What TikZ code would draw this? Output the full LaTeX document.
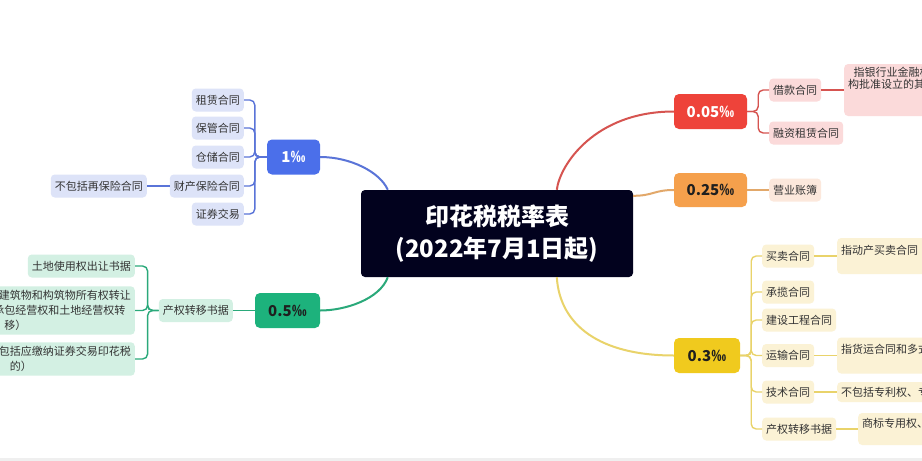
\documentclass[tikz,border=0pt]{standalone}
\usepackage{fontspec}
\setmainfont{Noto Sans CJK SC}

\definecolor{titlebg}{HTML}{02021E}
\definecolor{blueM}{HTML}{4B6FEA}
\definecolor{blueL}{HTML}{5A74D8}
\definecolor{blueP}{HTML}{DDE3F8}
\definecolor{greenM}{HTML}{1DB27C}
\definecolor{greenL}{HTML}{2AA97A}
\definecolor{greenP}{HTML}{D3F0E3}
\definecolor{redM}{HTML}{EE433A}
\definecolor{redL}{HTML}{D65450}
\definecolor{redP}{HTML}{FBDADA}
\definecolor{orangeM}{HTML}{F5A04C}
\definecolor{orangeL}{HTML}{E2A86A}
\definecolor{orangeP}{HTML}{FCE8DC}
\definecolor{yellowM}{HTML}{F0CA1E}
\definecolor{yellowL}{HTML}{E9D36A}
\definecolor{yellowP}{HTML}{FBF2D5}
\definecolor{leaftext}{HTML}{333333}
\definecolor{ratetext}{HTML}{1F1F1F}
\definecolor{stripgray}{HTML}{EFEFEF}

\begin{document}
\begin{tikzpicture}[x=1pt,y=-1pt,
        leaf/.style={rounded corners=4pt, inner xsep=4pt, inner ysep=4pt, minimum height=23pt, align=center, text=leaftext, font=\fontsize{11}{15}\selectfont},
        note/.style={leaf, anchor=west, font=\fontsize{11}{12}\selectfont},
        rate/.style={rounded corners=5pt, minimum height=35pt, text=ratetext, font=\fontsize{15}{18}\selectfont\bfseries},
        branch/.style={line width=2pt},
        twig/.style={line width=1.4pt, rounded corners=5pt}]

        % 画布
        \useasboundingbox (0,0) rectangle (922,461);
        \clip (0,0) rectangle (922,461);
        \fill[white] (0,0) rectangle (922,461);
        \fill[stripgray] (0,458) rectangle (922,461);

        % 中心
        \node[fill=titlebg, text=white, rounded corners=4pt, minimum width=272pt, minimum height=87pt, align=center, font=\fontsize{24}{32}\selectfont\bfseries] (title) at (497,233.5) {印花税税率表\\(2022年7月1日起)};
        \coordinate (tNW) at ([xshift=27pt]title.north west);
        \coordinate (tSW) at ([xshift=27pt]title.south west);
        \coordinate (tN) at ([xshift=196pt]title.north west);
        \coordinate (tS) at ([xshift=196pt]title.south west);
        \coordinate (tNE) at ([yshift=-6pt]title.north east);

        % 税率
        \node[rate, fill=blueM, text=white, minimum width=53pt] (r1) at (293.5,157) {1‰};
        \node[rate, fill=greenM, minimum width=65pt] (r05) at (287.5,310.5) {0.5‰};
        \node[rate, fill=redM, text=white, minimum width=73pt] (r005) at (710.5,111.5) {0.05‰};
        \node[rate, fill=orangeM, minimum width=73pt, minimum height=34pt] (r025) at (710.5,190) {0.25‰};
        \node[rate, fill=yellowM, minimum width=66pt] (r03) at (707,355.5) {0.3‰};

        \draw[branch, blueL] (r1.east) .. controls +(30,0) and +(-8,-18) .. (tNW);
        \draw[branch, greenL] (tSW) .. controls +(-8,22) and +(25,0) .. (r05.east);
        \draw[branch, redL] (tN) .. controls +(3,-25) and +(-79,0) .. (r005.west);
        \draw[branch, orangeL] (tNE) .. controls +(20,0) and +(-20,0) .. (r025.west);
        \draw[branch, yellowL] (tS) .. controls +(3,48) and +(-74,0) .. (r03.west);

        % 1‰
        \foreach \nm/\y/\txt in {zl/100/租赁合同, bg/128/保管合同, cc/157/仓储合同, cb/186/财产保险合同, zq/214/证券交易}
        {
            \node[leaf, fill=blueP, anchor=east] (\nm) at (244,\y) {\txt};
            \draw[twig, blueL] (r1.west) -- ++(-12,0) |- (\nm.east);
        }
        \node[leaf, fill=blueP, anchor=east] (bbk) at (147,186) {不包括再保险合同};
        \draw[twig, blueL] (cb.west) -- (bbk.east);

        % 0.5‰
        \node[leaf, fill=greenP, anchor=east] (cqzy) at (233,310.5) {产权转移书据};
        \draw[twig, greenL] (r05.west) -- (cqzy.east);
        \node[leaf, fill=greenP, anchor=east] (tdcr) at (135,266) {土地使用权出让书据};
        \node[leaf, fill=greenP, anchor=east] (fwzr) at (135,310.5) {土地使用权、房屋等建筑物和构筑物所有权转让\\书据（不包括土地承包经营权和土地经营权转\\移）};
        \node[leaf, fill=greenP, anchor=east] (gqzr) at (135,359) {股权转让书据（不包括应缴纳证券交易印花税\\的）};
        \foreach \nm in {tdcr, fwzr, gqzr}
            \draw[twig, greenL] (cqzy.west) -- ++(-11,0) |- (\nm.east);

        % 0.05‰
        \node[leaf, fill=redP, anchor=west] (jk) at (769,90) {借款合同};
        \node[leaf, fill=redP, anchor=west] (rz) at (769,133) {融资租赁合同};
        \foreach \nm in {jk, rz}
            \draw[twig, redL] (r005.east) -- ++(11,0) |- (\nm.west);
        \node[note, fill=redP, inner ysep=2pt, minimum height=52pt] (jkdesc) at (844,90) {指银行业金融机构、经国务院银行业监督管理机\\构批准设立的其他金融机构与借款人（不包括同业\\拆借）的\\借款合同};
        \draw[twig, redL] (jk.east) -- (jkdesc.west);

        % 0.25‰
        \node[leaf, fill=orangeP, anchor=west] (yyzb) at (769,190) {营业账簿};
        \draw[twig, orangeL] (r025.east) -- (yyzb.west);

        % 0.3‰
        \foreach \nm/\y/\txt in {mm/256/买卖合同, cl/292/承揽合同, jsgc/320/建设工程合同, ys/355.5/运输合同, js/392/技术合同, cq/429/产权转移书据}
        {
            \node[leaf, fill=yellowP, anchor=west] (\nm) at (762,\y) {\txt};
            \draw[twig, yellowL] (r03.east) -- ++(11,0) |- (\nm.west);
        }
        \node[note, fill=yellowP, minimum height=36pt] (mmdesc) at (837,256) {指动产买卖合同（不包括个人书立的动产买卖合\\同）};
        \node[note, fill=yellowP, minimum height=36pt] (ysdesc) at (837,355.5) {指货运合同和多式联运合同（不包括管道运输合\\同）};
        \node[note, fill=yellowP, minimum height=20pt] (jsdesc) at (837,392) {不包括专利权、专有技术使用权转让书据};
        \node[note, fill=yellowP, minimum height=32pt] (cqdesc) at (858,429) {商标专用权、著作权、专利权、专有技术使用权\\转让书据};
        \draw[twig, yellowL] (mm.east) -- (mmdesc.west);
        \draw[twig, yellowL] (ys.east) -- (ysdesc.west);
        \draw[twig, yellowL] (js.east) -- (jsdesc.west);
        \draw[twig, yellowL] (cq.east) -- (cqdesc.west);
    \end{tikzpicture}
\end{document}
